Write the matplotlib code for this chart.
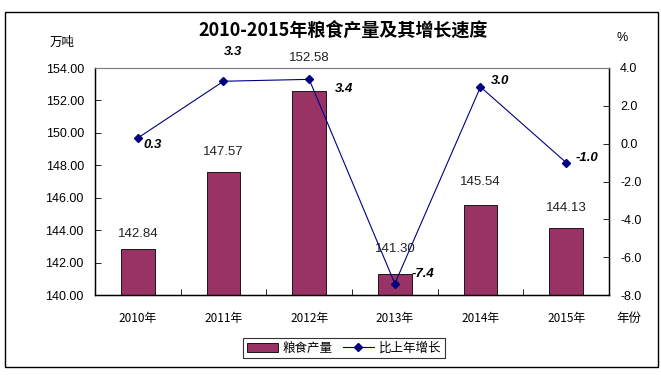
import matplotlib
matplotlib.use("Agg")
import matplotlib.pyplot as plt
from matplotlib.patches import Rectangle
from matplotlib.lines import Line2D
from matplotlib.patches import Patch

plt.rcParams['font.family'] = ['Liberation Sans', 'Noto Sans CJK SC', 'DejaVu Sans']

years = ["2010年", "2011年", "2012年", "2013年", "2014年", "2015年"]
output = [142.84, 147.57, 152.58, 141.30, 145.54, 144.13]
growth = [0.3, 3.3, 3.4, -7.4, 3.0, -1.0]
left_ticks = [140, 142, 144, 146, 148, 150, 152, 154]
right_ticks = [-8, -6, -4, -2, 0, 2, 4]

# label offsets (points) for styling
bar_lbl_off = [11, 14.5, 24, 18, 17, 14.5]
line_lbl_off = [(11, -5), (7, 21), (25, -7), (20, 7), (14, 4), (15, 3)]

bar_color = "#993366"
line_color = "#000080"
cjk = ['Noto Sans CJK SC', 'DejaVu Sans']

fig = plt.figure(figsize=(6.61, 3.77), dpi=100)
fig.patches.append(Rectangle((5/661, 1-367/377), 653/661, 355/377,
                             transform=fig.transFigure, fill=False,
                             edgecolor="black", linewidth=1.0))

ax = fig.add_axes([95/661, 1-295/377, 514/661, 227/377])
x = list(range(len(years)))
ax.bar(x, output, width=0.39, color=bar_color, edgecolor="black", linewidth=0.6,
       bottom=0, zorder=2)
ax.set_ylim(140, 154)
ax.set_xlim(-0.5, len(years) - 0.5)
ax.set_yticks(left_ticks)
ax.set_yticklabels([f"{v:.2f}" for v in left_ticks], fontsize=9)
ax.set_xticks(x)
ax.set_xticklabels(years, fontsize=8.5, family=cjk)
ax.tick_params(axis='x', length=0, pad=12)
ax.set_xticks([i + 0.5 for i in x[:-1]], minor=True)
ax.tick_params(axis='x', which='minor', direction='in', length=4, width=0.6)
ax.tick_params(axis='y', direction='in', length=4, width=0.6, pad=8)
for s in ['left', 'bottom', 'right']:
    ax.spines[s].set_linewidth(1.0)
ax.spines['top'].set_color("#808080")
for i, v in enumerate(output):
    ax.annotate(f"{v:.2f}", (i, v), xytext=(0, bar_lbl_off[i]),
                textcoords="offset points", ha="center", va="center",
                fontsize=9.5, color="#222222", annotation_clip=False)

ax2 = ax.twinx()
ax2.plot(x, growth, color=line_color, linewidth=0.8, marker="D", markersize=4,
         zorder=3)
ax2.set_ylim(-8, 4)
ax2.set_yticks(right_ticks)
ax2.set_yticklabels([f"{v:.1f}" for v in right_ticks], fontsize=9)
ax2.tick_params(axis='y', direction='in', length=4, width=0.6, pad=8)
ax2.spines['top'].set_color("#808080")
for i, v in enumerate(growth):
    dx, dy = line_lbl_off[i]
    ax2.annotate(f"{v:.1f}", (i, v), xytext=(dx, dy), textcoords="offset points",
                 ha="center", va="center", fontsize=9.5, fontweight="bold",
                 fontstyle="italic", annotation_clip=False)

fig.text(343/661, 1-30/377, "2010-2015年粮食产量及其增长速度", ha="center", va="center",
         fontsize=13, fontweight="bold", family=['Noto Sans CJK SC', 'DejaVu Sans'])
fig.text(62/661, 1-42/377, "万吨", ha="center", va="center", fontsize=9, family=cjk)
fig.text(622/661, 1-38/377, "%", ha="center", va="center", fontsize=9)
fig.text(629/661, 1-318/377, "年份", ha="center", va="center", fontsize=9, family=cjk)

handles = [Patch(facecolor=bar_color, edgecolor="black", linewidth=0.6),
           Line2D([0], [0], color=line_color, marker="D", markersize=4, linewidth=0.8)]
leg = fig.legend(handles, ["粮食产量", "比上年增长"], loc="center",
                 bbox_to_anchor=(344/661, 1-348/377), ncol=2, frameon=True,
                 fancybox=False, edgecolor="black",
                 prop={'family': cjk, 'size': 9}, handlelength=2.5,
                 handletextpad=0.4, columnspacing=0.8, borderpad=0.3)
leg.get_frame().set_linewidth(0.8)

fig.savefig("out.png", dpi=100)
